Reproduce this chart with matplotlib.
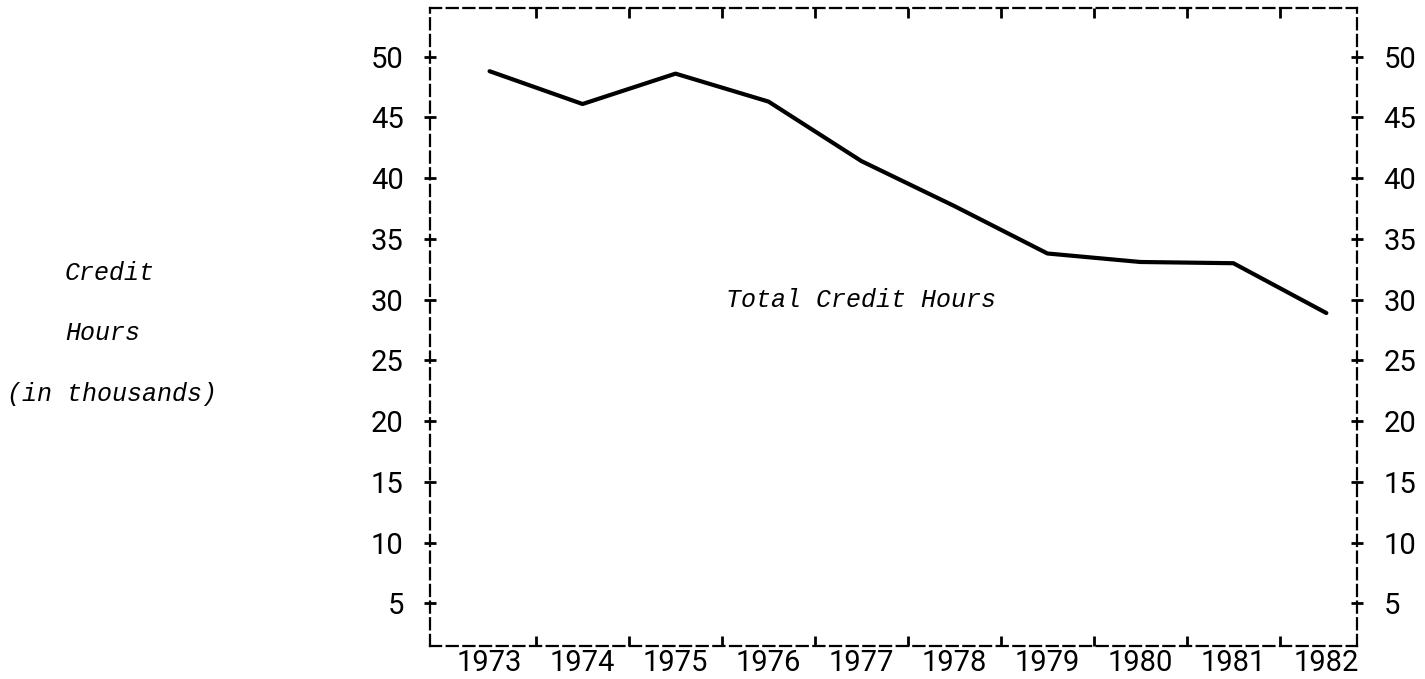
import matplotlib.pyplot as plt
import numpy as np

# total credit hours (thousands)
years = [1973, 1974, 1975, 1976, 1977, 1978, 1979, 1980, 1981, 1982]
hours = [48.8, 46.1, 48.6, 46.3, 41.4, 37.7, 33.8, 33.1, 33.0, 28.9]
y_ticks = [5, 10, 15, 20, 25, 30, 35, 40, 45, 50]
year_labels = [str(y) for y in years]

# numbers in a plain sans, the notes in a typewriter italic
plt.rcParams['font.family'] = ['Roboto', 'DejaVu Sans']
plt.rcParams['font.size'] = 21
type_font = ['Liberation Mono', 'DejaVu Sans Mono']

fig = plt.figure(figsize=(14.25, 6.79), dpi=100)
ax = fig.add_axes([0.3018, 0.0486, 0.6505, 0.9396])

ax.plot(years, hours, color='black', linewidth=3, solid_capstyle='round', solid_joinstyle='round')

ax.set_xlim(1972.36, 1982.33)
ax.set_ylim(1.5, 54.0)

# dashed frame like the hand drawn original
for s in ax.spines.values():
    s.set_linestyle((0, (5, 2.5)))
    s.set_linewidth(1.6)
    s.set_color('black')

# y axis: cross ticks on both sides
ax.set_yticks(y_ticks)
ax.tick_params(axis='y', which='major', direction='inout', length=8, width=2,
               left=True, right=True, labelleft=True, labelright=True, pad=15)

# x axis: year labels centred, small ticks halfway between years
ax.set_xticks(years)
ax.set_xticklabels(year_labels)
ax.tick_params(axis='x', which='major', length=0, pad=2)
mids = np.array(years[:-1]) + 0.5
ax.set_xticks(mids, minor=True)
ax.tick_params(axis='x', which='minor', direction='in', length=7, width=2,
               bottom=True, top=True)

ax.text(1977.0, 30.0, 'Total Credit Hours', fontfamily=type_font, fontstyle='italic',
        fontsize=18, ha='center', va='center')

fig.text(65 / 1425, 1 - 273 / 679, 'Credit', fontfamily=type_font, fontstyle='italic',
         fontsize=18, ha='left', va='center')
fig.text(65 / 1425, 1 - 333 / 679, 'Hours', fontfamily=type_font, fontstyle='italic',
         fontsize=18, ha='left', va='center')
fig.text(7 / 1425, 1 - 394 / 679, '(in thousands)', fontfamily=type_font, fontstyle='italic',
         fontsize=18, ha='left', va='center')

fig.savefig('out.png', dpi=100)
